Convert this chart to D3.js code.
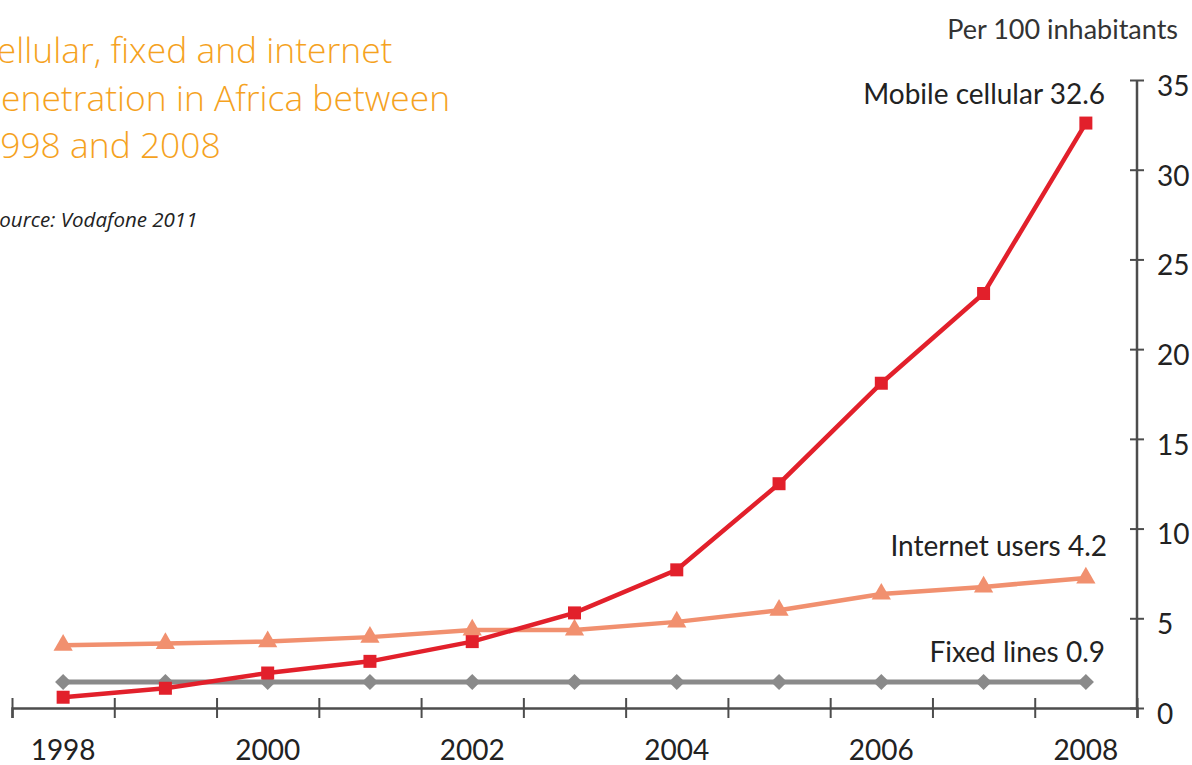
<!DOCTYPE html>
<html>
<head>
<meta charset="utf-8">
<script src="https://cdn.jsdelivr.net/npm/d3@7"></script>
<style>
  html, body { margin: 0; padding: 0; background: #fff; overflow: hidden; }
</style>
</head>
<body>
<div class="chart"></div>
<script>
// data
years = [1998, 1999, 2000, 2001, 2002, 2003, 2004, 2005, 2006, 2007, 2008]
mobile = [0.6, 1.1, 1.95, 2.6, 3.7, 5.3, 7.7, 12.5, 18.1, 23.1, 32.6]
internet = [3.5, 3.6, 3.7, 3.95, 4.35, 4.35, 4.8, 5.45, 6.35, 6.75, 7.25]
fixed = [1.45, 1.45, 1.45, 1.45, 1.45, 1.45, 1.45, 1.45, 1.45, 1.45, 1.45]
yTicks = [0, 5, 10, 15, 20, 25, 30, 35]
yearLabels = [1998, 2000, 2002, 2004, 2006, 2008]
seriesLabels = ["Mobile cellular 32.6", "Internet users 4.2", "Fixed lines 0.9"]
titleLines = ["cellular, fixed and internet", "penetration in Africa between", "1998 and 2008"]
sourceText = "Source: Vodafone 2011"
unitText = "Per 100 inhabitants"

width = 1192
height = 765
labelFont = "Lato, 'Open Sans', sans-serif"

svg = d3.select('.chart').append('svg')
    .attr("width", width)
    .attr("height", height)

scaleX = d3.scaleLinear()
    .domain([1997.5, 2008.5])
    .range([12, 1137])

scaleY = d3.scaleLinear()
    .domain([0, 35])
    .range([708, 80])

// title, cut off at the left edge like the source
svg.append("g").selectAll("text")
    .data(titleLines)
    .join("text")
    .attr("x", -20)
    .attr("y", (d, i) => 63 + i * 47.5)
    .attr("fill", "#f5a21e")
    .style("font", "300 35.4px 'Open Sans', sans-serif")
    .text(d => d)

svg.append("text")
    .attr("x", -11)
    .attr("y", 227)
    .attr("fill", "#222")
    .style("font", "italic 20.5px 'Open Sans', sans-serif")
    .text(sourceText)

svg.append("text")
    .attr("x", 1178)
    .attr("y", 39)
    .attr("text-anchor", "end")
    .attr("fill", "#333")
    .style("font", "27px " + labelFont)
    .text(unitText)

// x axis, ticks between years, labels centred on years
boundaries = years.map(d => d - 0.5).concat([2008.5])
xAxis = g => g
    .attr("transform", `translate(0, ${scaleY(0)})`)
    .call(d3.axisBottom(scaleX).tickValues(boundaries).tickSize(10).tickFormat(""))
    .call(g => g.select(".domain").attr("stroke", "#4d4d4d").attr("stroke-width", 2.5))
    .call(g => g.selectAll(".tick line").attr("y1", -10).attr("y2", 10)
          .attr("stroke", "#4d4d4d").attr("stroke-width", 2))
svg.append("g").call(xAxis)

svg.append("g").selectAll("text")
    .data(yearLabels)
    .join("text")
    .attr("x", d => scaleX(d))
    .attr("y", 760)
    .attr("text-anchor", "middle")
    .attr("fill", "#222")
    .style("font", "28px " + labelFont)
    .text(d => d)

// y axis on the right
yAxis = g => g
    .attr("transform", `translate(${scaleX(2008.5)}, 0)`)
    .call(d3.axisRight(scaleY).tickValues(yTicks).tickSize(7).tickPadding(13))
    .call(g => g.select(".domain").remove())
    .call(g => g.selectAll(".tick line").attr("x1", -7).attr("x2", 7)
          .attr("stroke", "#4d4d4d").attr("stroke-width", 2))
    .call(g => g.selectAll(".tick text").attr("dy", "0.55em")
          .attr("fill", "#222").style("font", "28px " + labelFont))
svg.append("g").call(yAxis)
svg.append("line")
    .attr("x1", scaleX(2008.5)).attr("x2", scaleX(2008.5))
    .attr("y1", scaleY(35)).attr("y2", scaleY(0) + 2)
    .attr("stroke", "#4d4d4d")
    .attr("stroke-width", 2.5)

line = d3.line()
    .x((d, i) => scaleX(years[i]))
    .y(d => scaleY(d))

series = [
  {values: fixed, color: "#8a8a8a", symbol: d3.symbolSquare, size: 130, rotate: 45, stroke: 5},
  {values: internet, color: "#f1906f", symbol: d3.symbolTriangle, size: 160, rotate: 0, stroke: 4.5},
  {values: mobile, color: "#e2202b", symbol: d3.symbolSquare, size: 169, rotate: 0, stroke: 4.5}
]

series.forEach(s => {
  svg.append("path")
      .attr("d", line(s.values))
      .attr("fill", "none")
      .attr("stroke", s.color)
      .attr("stroke-width", s.stroke)
  svg.append("g").selectAll("path")
      .data(s.values)
      .join("path")
      .attr("transform", (d, i) => `translate(${scaleX(years[i])},${scaleY(d)}) rotate(${s.rotate})`)
      .attr("d", d3.symbol().type(s.symbol).size(s.size))
      .attr("fill", s.color)
})

// series labels near the end of each line
labelPos = [{x: 1105, y: 104}, {x: 1107, y: 556}, {x: 1105, y: 662}]
svg.append("g").selectAll("text")
    .data(seriesLabels)
    .join("text")
    .attr("x", (d, i) => labelPos[i].x)
    .attr("y", (d, i) => labelPos[i].y)
    .attr("text-anchor", "end")
    .attr("fill", "#222")
    .style("font", "28px " + labelFont)
    .text(d => d)
</script>
</body>
</html>
